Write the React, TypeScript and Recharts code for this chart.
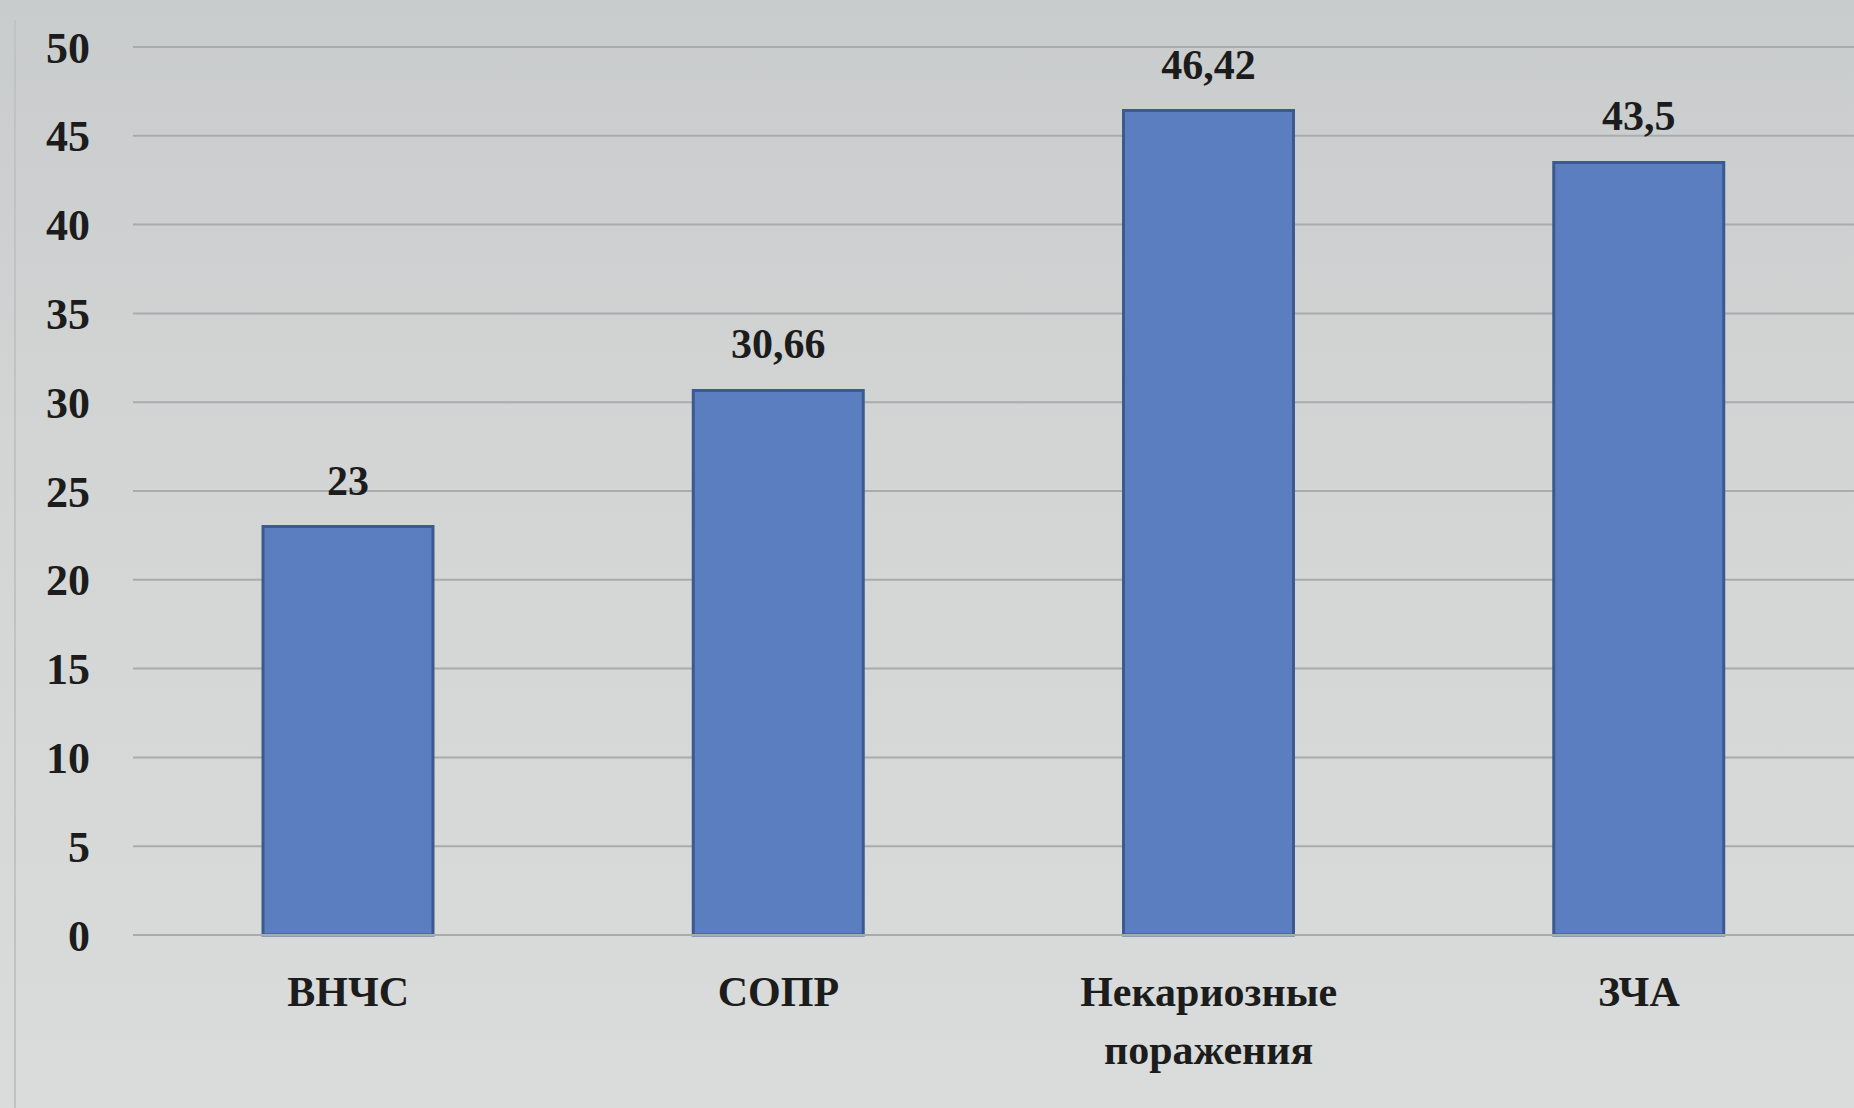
import React from 'react';
import { BarChart, Bar, XAxis, YAxis, CartesianGrid, LabelList } from 'recharts';

const categories = ['ВНЧС', 'СОПР', 'Некариозные поражения', 'ЗЧА'];
const values = [23, 30.66, 46.42, 43.5];
const yTicks = [0, 5, 10, 15, 20, 25, 30, 35, 40, 45, 50];

const data = categories.map((name, i) => ({ name, value: values[i] }));

const FONT = '"Liberation Serif", "DejaVu Serif", serif';
const TEXT = '#1c1c1c';

const XTick = (props: any) => {
  const { x, y, payload } = props;
  const label: string = payload.value;
  const lines = label.includes(' ') ? label.split(' ') : [label];
  return (
    <g transform={`translate(${x},${y})`}>
      <text
        textAnchor="middle"
        fill={TEXT}
        fontFamily={FONT}
        fontWeight="bold"
        fontSize={42}
      >
        {lines.map((l, i) => (
          <tspan key={i} x={0} y={63 + i * 58}>
            {l}
          </tspan>
        ))}
      </text>
    </g>
  );
};

const fmt = (v: any) => String(v).replace('.', ',');

export default function App() {
  return (
    <div
      style={{
        position: 'absolute',
        left: 0,
        top: 0,
        width: 1854,
        height: 1108,
        background: 'linear-gradient(180deg, #c9cccc 0%, #d3d5d5 40%, #dadcdb 100%)',
        overflow: 'hidden',
      }}
    >
      <div
        style={{
          position: 'absolute',
          left: 14,
          top: 20,
          width: 2,
          height: 1088,
          background: '#c0c3c3',
        }}
      />
      <BarChart
        width={1854}
        height={1108}
        data={data}
        margin={{ top: 47, right: 0, bottom: 0, left: 5 }}
      >
        <CartesianGrid vertical={false} stroke="#a9acac" strokeWidth={2} />
        <XAxis
          dataKey="name"
          tick={<XTick />}
          tickLine={false}
          axisLine={{ stroke: '#a9acac', strokeWidth: 2 }}
          interval={0}
          height={173}
        />
        <YAxis
          domain={[0, 50]}
          ticks={yTicks}
          width={128}
          tickSize={0}
          tickMargin={43}
          axisLine={false}
          tickLine={false}
          interval={0}
          tick={{ fill: TEXT, fontFamily: FONT, fontWeight: 'bold', fontSize: 44 }}
        />
        <Bar
          dataKey="value"
          fill="#5b7ec1"
          stroke="#3d5a8e"
          strokeWidth={3}
          barSize={170}
          isAnimationActive={false}
        >
          <LabelList
            dataKey="value"
            position="top"
            offset={32}
            formatter={fmt}
            fill={TEXT}
            fontFamily={FONT}
            fontWeight="bold"
            fontSize={42}
          />
        </Bar>
      </BarChart>
    </div>
  );
}
